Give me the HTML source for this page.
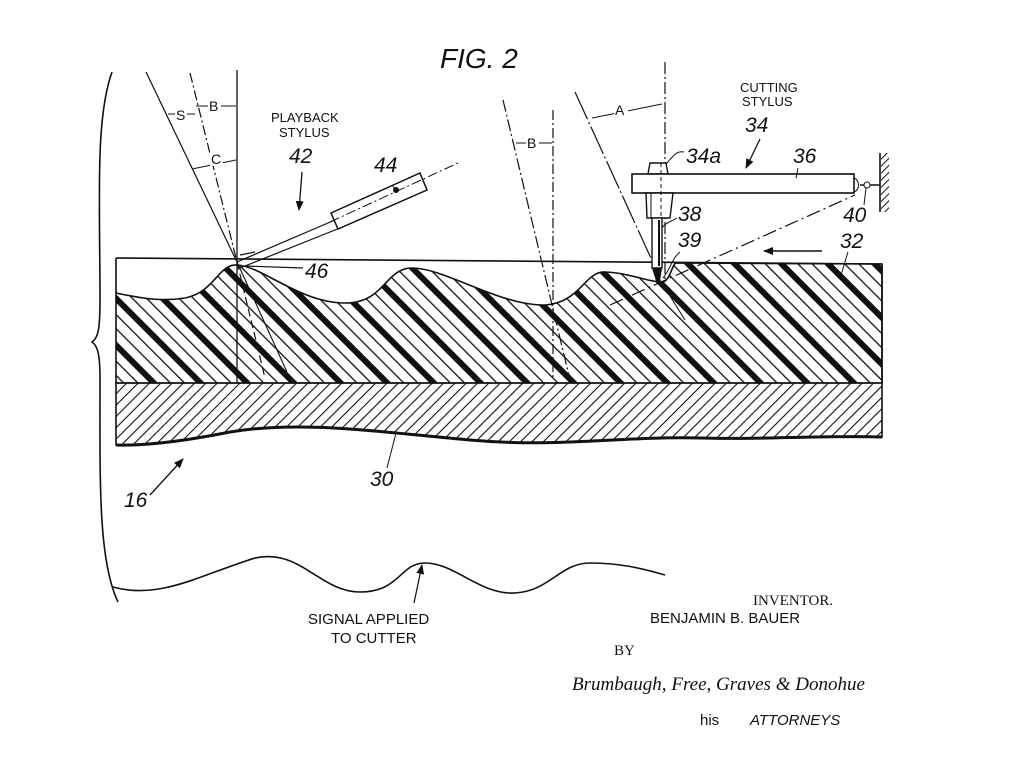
<!DOCTYPE html>
<html><head><meta charset="utf-8"><style>
html,body{margin:0;padding:0;background:#fff;}
svg{display:block;}
text{font-family:"Liberation Sans",sans-serif;fill:#111;}
.it{font-style:italic;}
</style></head><body>
<svg width="1024" height="772" viewBox="0 0 1024 772" xmlns="http://www.w3.org/2000/svg">
<defs>
<pattern id="h1" patternUnits="userSpaceOnUse" width="33" height="33" patternTransform="rotate(-45)">
<rect x="0" y="0" width="6" height="33" fill="#111"/>
<rect x="14" y="0" width="1.3" height="33" fill="#111"/>
<rect x="24" y="0" width="1.3" height="33" fill="#111"/>
</pattern>
<pattern id="h2" patternUnits="userSpaceOnUse" width="8" height="8" patternTransform="rotate(45)">
<rect x="0" y="0" width="1.1" height="8" fill="#111"/>
</pattern>
<pattern id="wall" patternUnits="userSpaceOnUse" width="5" height="5" patternTransform="rotate(45)">
<rect x="0" y="0" width="1" height="5" fill="#111"/>
</pattern>
<marker id="ar" markerWidth="10" markerHeight="10" refX="9" refY="5" orient="auto" markerUnits="userSpaceOnUse">
<path d="M0,1 L10,5 L0,9 Z" fill="#111"/>
</marker>
</defs>

<text x="440" y="68" font-size="28" class="it">FIG. 2</text>

<!-- brace -->
<path d="M112,72 C95,120 100,200 100,300 C100,330 98,338 92,342 C98,346 100,355 100,380 C100,480 98,560 118,602" fill="none" stroke="#111" stroke-width="1.6"/>

<!-- record layer 32 hatched -->
<path d="M116,293 C140,298 160,302 185,298 C215,292 218,264 237,265 C262,266 300,303 345,303 C385,303 385,268 412,268 C445,268 500,306 545,305 C580,303 585,271 605,272 C630,273 648,282 662,282 C670,282 672,264 676,263 L882,264 L882,383 L116,383 Z" fill="url(#h1)" stroke="#111" stroke-width="1.6"/>
<path d="M116,258 L882,264 M116,258 L116,293 M882,264 L882,383" fill="none" stroke="#111" stroke-width="1.6"/>
<!-- base 30 -->
<path d="M116,383 L882,383 L882,437 C820,435 760,440 700,438 C620,436 560,448 470,440 C380,432 300,420 230,432 C190,440 150,446 116,445 Z" fill="url(#h2)" stroke="#111" stroke-width="1.6"/>
<path d="M116,445 C150,446 190,440 230,432 C300,420 380,432 470,440 C560,448 620,436 700,438 C760,440 820,435 882,437" fill="none" stroke="#111" stroke-width="3"/>

<!-- left construction lines -->
<line x1="237" y1="70" x2="237" y2="382" stroke="#111" stroke-width="1.3"/>
<line x1="146" y1="72" x2="237" y2="262" stroke="#111" stroke-width="1.2"/>
<line x1="190" y1="73" x2="237" y2="262" stroke="#111" stroke-width="1.2" stroke-dasharray="10,3,2,3"/>
<line x1="237" y1="262" x2="265" y2="378" stroke="#111" stroke-width="1.2" stroke-dasharray="8,4"/>
<line x1="237" y1="262" x2="287" y2="372" stroke="#111" stroke-width="1.1"/>
<!-- S B C arrows -->
<line x1="168" y1="114" x2="195" y2="114" stroke="#111"/><rect x="175" y="105" width="12" height="16" fill="#fff"/><text x="176" y="120" font-size="14">S</text>
<line x1="196" y1="106" x2="236" y2="106" stroke="#111"/><rect x="208" y="97" width="13" height="16" fill="#fff"/><text x="209" y="111" font-size="14">B</text>
<line x1="192" y1="169" x2="236" y2="160" stroke="#111"/><rect x="210" y="150" width="13" height="16" fill="#fff"/><text x="211" y="164" font-size="14">C</text>

<!-- playback stylus -->
<line x1="237" y1="262" x2="335" y2="220" stroke="#111" stroke-width="1.2"/>
<line x1="240" y1="268" x2="340" y2="228" stroke="#111" stroke-width="1.2"/>
<line x1="240" y1="255" x2="255" y2="252" stroke="#111" stroke-width="1.2"/>
<polygon points="331,213 420,173 427,190 338,229" fill="#fff" stroke="#111" stroke-width="1.5"/>
<line x1="330" y1="222" x2="458" y2="163" stroke="#111" stroke-width="1" stroke-dasharray="10,3,2,3"/>
<circle cx="396" cy="190" r="3" fill="#111"/>
<path d="M392,185 L396,190" stroke="#111"/>
<line x1="245" y1="266" x2="303" y2="268" stroke="#111" stroke-width="1.2"/>
<text x="271" y="122" font-size="13">PLAYBACK</text>
<text x="279" y="137" font-size="13">STYLUS</text>
<text x="289" y="163" font-size="21" class="it">42</text>
<line x1="302" y1="172" x2="299" y2="210" stroke="#111" stroke-width="1.3" marker-end="url(#ar)"/>
<text x="374" y="172" font-size="21" class="it">44</text>
<text x="305" y="278" font-size="21" class="it">46</text>

<!-- middle lines -->
<line x1="503" y1="100" x2="570" y2="380" stroke="#111" stroke-width="1.2" stroke-dasharray="12,3,2,3"/>
<line x1="553" y1="110" x2="553" y2="380" stroke="#111" stroke-width="1.2" stroke-dasharray="10,3,2,3"/>
<line x1="516" y1="143" x2="552" y2="143" stroke="#111"/><rect x="526" y="134" width="13" height="16" fill="#fff"/><text x="527" y="148" font-size="14">B</text>

<!-- cutting stylus lines -->
<line x1="665" y1="62" x2="665" y2="280" stroke="#111" stroke-width="1.2" stroke-dasharray="12,3,2,3"/>
<line x1="575" y1="92" x2="660" y2="278" stroke="#111" stroke-width="1.2" stroke-dasharray="30,3,2,3"/>
<line x1="660" y1="280" x2="685" y2="320" stroke="#111" stroke-width="1"/>
<line x1="610" y1="305" x2="855" y2="195" stroke="#111" stroke-width="1.2" stroke-dasharray="14,4,2,4"/>
<line x1="592" y1="118" x2="662" y2="104" stroke="#111"/><rect x="614" y="101" width="14" height="16" fill="#fff"/><text x="615" y="115" font-size="14">A</text>

<!-- cutting stylus -->
<polygon points="650,163 666,163 668,174 648,174" fill="#fff" stroke="#111" stroke-width="1.4"/>
<rect x="632" y="174" width="222" height="19" fill="#fff" stroke="#111" stroke-width="1.6"/>
<polygon points="646,193 673,193 670,218 647,218" fill="#fff" stroke="#111" stroke-width="1.4"/>
<line x1="651" y1="193" x2="651" y2="218" stroke="#111"/>
<rect x="652" y="218" width="10" height="50" fill="#fff" stroke="#111" stroke-width="1.4"/>
<line x1="659" y1="220" x2="659" y2="266" stroke="#111" stroke-width="2"/>
<polygon points="652,268 662,268 660,281 656,281" fill="#111"/>
<line x1="661" y1="163" x2="661" y2="218" stroke="#111" stroke-dasharray="4,3"/>
<path d="M854,178 C860,180 860,190 854,192" fill="none" stroke="#111"/>
<line x1="860" y1="185" x2="880" y2="185" stroke="#111" stroke-width="1.5"/>
<circle cx="867" cy="185" r="3" fill="#fff" stroke="#111"/>
<line x1="880" y1="153" x2="880" y2="212" stroke="#111" stroke-width="1.6"/>
<rect x="881" y="153" width="8" height="59" fill="url(#wall)"/>
<path d="M666,164 C672,158 676,150 684,152" fill="none" stroke="#111"/>
<text x="686" y="163" font-size="21" class="it">34a</text>
<text x="740" y="92" font-size="13">CUTTING</text>
<text x="742" y="106" font-size="13">STYLUS</text>
<text x="745" y="132" font-size="21" class="it">34</text>
<line x1="760" y1="139" x2="746" y2="168" stroke="#111" stroke-width="1.3" marker-end="url(#ar)"/>
<text x="793" y="163" font-size="21" class="it">36</text>
<line x1="798" y1="168" x2="796" y2="178" stroke="#111"/>
<text x="678" y="221" font-size="21" class="it">38</text>
<path d="M677,218 C670,222 664,224 662,228" fill="none" stroke="#111"/>
<text x="678" y="247" font-size="21" class="it">39</text>
<path d="M680,252 C672,258 670,270 663,278" fill="none" stroke="#111"/>
<text x="843" y="222" font-size="21" class="it">40</text>
<line x1="866" y1="188" x2="864" y2="205" stroke="#111"/>
<text x="840" y="248" font-size="21" class="it">32</text>
<line x1="848" y1="252" x2="841" y2="275" stroke="#111"/>
<line x1="822" y1="251" x2="764" y2="251" stroke="#111" stroke-width="1.4" marker-end="url(#ar)"/>

<!-- 16 & 30 -->
<text x="124" y="507" font-size="21" class="it">16</text>
<line x1="150" y1="495" x2="183" y2="459" stroke="#111" stroke-width="1.3" marker-end="url(#ar)"/>
<text x="370" y="486" font-size="21" class="it">30</text>
<line x1="387" y1="468" x2="396" y2="433" stroke="#111"/>

<!-- signal wave -->
<path d="M113,587 C160,600 200,575 255,558 C300,548 320,592 360,592 C400,592 400,563 425,563 C455,563 480,595 515,593 C550,591 560,563 590,563 C620,563 640,568 665,575" fill="none" stroke="#111" stroke-width="1.6"/>
<line x1="414" y1="603" x2="422" y2="565" stroke="#111" stroke-width="1.2" marker-end="url(#ar)"/>
<text x="308" y="624" font-size="15">SIGNAL  APPLIED</text>
<text x="331" y="643" font-size="15">TO CUTTER</text>

<!-- inventor -->
<text x="753" y="605" font-size="15" style="font-family:'Liberation Serif',serif">INVENTOR.</text>
<text x="650" y="623" font-size="15">BENJAMIN  B.  BAUER</text>
<text x="614" y="655" font-size="15" style="font-family:'Liberation Serif',serif">BY</text>
<text x="572" y="690" font-size="19" textLength="293" lengthAdjust="spacingAndGlyphs" style="font-family:'Liberation Serif',serif;font-style:italic">Brumbaugh, Free, Graves &amp; Donohue</text>
<text x="700" y="725" font-size="15">his</text>
<text x="750" y="725" font-size="15" class="it">ATTORNEYS</text>
</svg>
</body></html>
